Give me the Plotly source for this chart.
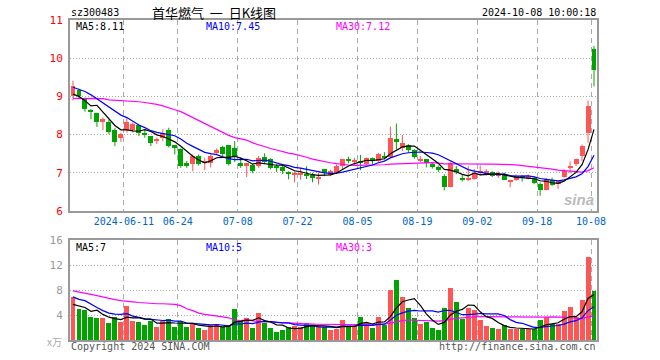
import plotly.graph_objects as go
import pandas as pd

# ---------------- data ----------------
holidays = ["2024-06-10", "2024-09-16", "2024-09-17", "2024-10-01", "2024-10-02",
            "2024-10-03", "2024-10-04", "2024-10-07"]
dates = pd.bdate_range("2024-05-28", "2024-10-08", freq="C", holidays=holidays)
date_str = [d.strftime("%Y-%m-%d") for d in dates]

opens = [9.00, 9.18, 8.95, 8.65, 8.56, 8.32, 8.32, 8.11, 7.91, 8.12,
         8.12, 8.25, 8.05, 7.96, 7.83, 7.92, 8.12, 7.72, 7.63, 7.25,
         7.22, 7.44, 7.26, 7.25, 7.51, 7.68, 7.72, 7.64, 7.25, 7.17,
         7.20, 7.18, 7.42, 7.35, 7.16, 7.15, 7.02, 6.95, 6.93, 6.97,
         6.93, 6.84, 7.10, 6.93, 7.00, 7.19, 7.34, 7.30, 7.27, 7.22,
         7.38, 7.31, 7.42, 7.42, 7.88, 7.66, 7.72, 7.60, 7.33, 7.35,
         7.22, 7.15, 6.91, 6.64, 7.11, 6.83, 6.81, 6.84, 7.00, 6.99,
         7.03, 6.94, 6.97, 6.75, 6.82, 6.89, 6.86, 6.87, 6.72, 6.56,
         6.82, 6.72, 6.89, 7.13, 7.22, 7.44, 8.04, 10.25]
highs = [9.41, 9.20, 8.97, 8.67, 8.57, 8.45, 8.40, 8.18, 8.05, 8.45,
         8.32, 8.27, 8.14, 7.96, 7.92, 8.14, 8.18, 7.73, 7.64, 7.31,
         7.48, 7.48, 7.40, 7.49, 7.64, 7.71, 7.72, 7.83, 7.40, 7.25,
         7.22, 7.44, 7.51, 7.38, 7.23, 7.19, 7.04, 7.04, 7.13, 7.17,
         7.00, 7.00, 7.10, 7.08, 7.22, 7.35, 7.42, 7.39, 7.47, 7.40,
         7.40, 7.52, 7.54, 8.21, 8.29, 7.99, 7.75, 7.62, 7.44, 7.35,
         7.26, 7.19, 6.96, 7.30, 7.18, 6.96, 7.17, 7.10, 7.19, 7.10,
         7.04, 7.04, 7.00, 6.82, 6.96, 6.93, 6.96, 6.91, 6.75, 6.87,
         6.87, 6.78, 7.09, 7.30, 7.37, 7.74, 8.89, 10.32]
lows = [8.89, 8.93, 8.60, 8.40, 8.20, 8.12, 8.01, 7.70, 7.81, 8.05,
        8.05, 7.96, 7.92, 7.70, 7.75, 7.83, 7.66, 7.48, 7.13, 7.13,
        7.04, 7.19, 7.07, 7.14, 7.48, 7.44, 7.19, 7.28, 7.13, 6.89,
        6.99, 7.13, 7.25, 7.09, 7.02, 6.97, 6.83, 6.75, 6.82, 6.84,
        6.75, 6.69, 6.91, 6.91, 6.97, 7.10, 7.25, 7.21, 7.07, 7.19,
        7.22, 7.28, 7.35, 7.39, 7.61, 7.57, 7.53, 7.37, 7.28, 7.14,
        7.11, 7.02, 6.54, 6.62, 6.96, 6.77, 6.78, 6.82, 6.93, 6.93,
        6.89, 6.86, 6.82, 6.62, 6.79, 6.77, 6.82, 6.70, 6.40, 6.54,
        6.66, 6.58, 6.87, 6.98, 7.18, 7.31, 7.79, 9.26]
closes = [9.26, 9.00, 8.67, 8.58, 8.33, 8.40, 8.07, 7.81, 8.01, 8.32,
          8.27, 8.03, 8.01, 7.77, 7.89, 8.05, 7.70, 7.64, 7.19, 7.19,
          7.44, 7.22, 7.27, 7.44, 7.60, 7.48, 7.22, 7.42, 7.20, 7.25,
          7.04, 7.40, 7.28, 7.13, 7.14, 7.05, 6.98, 6.97, 7.00, 6.93,
          6.87, 6.89, 7.00, 7.04, 7.17, 7.35, 7.33, 7.32, 7.26, 7.38,
          7.31, 7.48, 7.41, 7.90, 7.81, 7.79, 7.59, 7.42, 7.35, 7.25,
          7.15, 7.07, 6.63, 7.25, 7.03, 6.82, 6.87, 7.00, 7.00, 7.04,
          6.91, 6.95, 6.82, 6.82, 6.91, 6.88, 6.87, 6.74, 6.56, 6.84,
          6.69, 6.78, 7.04, 7.17, 7.37, 7.70, 8.75, 9.70]
volumes = [6.93, 4.96, 4.80, 3.68, 3.52, 3.52, 2.72, 3.68, 2.88, 5.44,
           3.04, 2.88, 2.40, 3.04, 2.08, 3.04, 3.36, 2.08, 3.04, 2.08,
           2.72, 1.92, 1.60, 2.40, 2.56, 2.08, 2.24, 4.96, 3.04, 3.52,
           1.92, 4.32, 2.72, 1.92, 1.28, 1.60, 2.08, 2.24, 2.08, 2.72,
           2.40, 2.08, 2.08, 1.60, 1.70, 3.20, 2.24, 2.24, 3.68, 2.72,
           1.92, 3.68, 2.40, 8.00, 9.60, 6.88, 5.12, 3.52, 2.56, 2.88,
           1.92, 1.60, 5.12, 8.32, 6.08, 3.36, 5.12, 4.80, 3.20, 2.24,
           1.92, 1.76, 2.40, 1.76, 1.76, 1.76, 1.76, 1.76, 3.20, 3.68,
           2.56, 2.56, 4.64, 5.28, 3.68, 6.40, 13.28, 7.84]

price_ma5_head = [9.06, 9.00, 8.89, 8.75]
price_ma10_head = [9.24, 9.19, 9.13, 9.04, 8.93, 8.82, 8.72, 8.61, 8.51]
price_ma30_head = [8.95, 8.94, 8.94, 8.95, 8.95, 8.94, 8.91, 8.90, 8.89, 8.89,
                   8.87, 8.86, 8.84, 8.82, 8.79, 8.75, 8.71, 8.65, 8.60, 8.52,
                   8.44, 8.36, 8.28, 8.20, 8.13, 8.05, 7.98, 7.92, 7.88]
vol_ma5_head = [5.7, 5.5, 5.2, 4.6]
vol_ma10_head = [6.9, 6.5, 6.3, 5.7, 5.2, 4.7, 4.3, 4.15, 4.1]
vol_ma30_head = [7.85, 7.7, 7.5, 7.3, 7.1, 6.85, 6.6, 6.45, 6.3, 6.15,
                 6.1, 6.0, 5.9, 5.85, 5.8, 5.8, 5.75, 5.7, 5.5, 5.0,
                 4.7, 4.3, 4.1, 4.0, 3.8, 3.7, 3.55, 3.2, 3.1]

tick_dates = ["2024-06-11", "2024-06-24", "2024-07-08", "2024-07-22", "2024-08-05",
              "2024-08-19", "2024-09-02", "2024-09-18", "2024-10-08"]
tick_labels = ["2024-06-11", "06-24", "07-08", "07-22", "08-05", "08-19", "09-02", "09-18", "10-08"]

# ---------------- helpers ----------------
def moving_avg(vals, n, head):
    out = []
    for i in range(len(vals)):
        if i < n - 1:
            out.append(head[i])
        else:
            out.append(sum(vals[i - n + 1:i + 1]) / n)
    return out

N = len(closes)
idx = list(range(N))
UP = "#FF5555"
DN = "#00A300"
up = [c >= o for o, c in zip(opens, closes)]
colors = [UP if u else DN for u in up]

body_base = [min(o, c) for o, c in zip(opens, closes)]
body_h = [max(abs(c - o), 0.025) for o, c in zip(opens, closes)]

tick_idx = [date_str.index(d) - 0.5 for d in tick_dates]

fig = go.Figure()

# wicks
for flag, col in ((True, UP), (False, DN)):
    wx, wy = [], []
    for i in idx:
        if up[i] == flag:
            wx += [i, i, None]
            wy += [lows[i], highs[i], None]
    fig.add_trace(go.Scatter(x=wx, y=wy, mode="lines", line=dict(color=col, width=1),
                             hoverinfo="skip", showlegend=False))

# bodies
fig.add_trace(go.Bar(x=idx, y=body_h, base=body_base, width=0.83,
                     marker=dict(color=colors, line=dict(width=0)), showlegend=False))

# price MAs
for n, head, col in ((30, price_ma30_head, "#FF00FF"), (10, price_ma10_head, "#0000FF"),
                     (5, price_ma5_head, "#000000")):
    fig.add_trace(go.Scatter(x=idx, y=moving_avg(closes, n, head), mode="lines",
                             line=dict(color=col, width=1.2), showlegend=False))

# volume
fig.add_trace(go.Bar(x=idx, y=volumes, width=0.83, xaxis="x2", yaxis="y2",
                     marker=dict(color=colors, line=dict(width=0)), showlegend=False))
for n, head, col in ((30, vol_ma30_head, "#FF00FF"), (10, vol_ma10_head, "#0000FF"),
                     (5, vol_ma5_head, "#000000")):
    fig.add_trace(go.Scatter(x=idx, y=moving_avg(volumes, n, head), mode="lines",
                             xaxis="x2", yaxis="y2",
                             line=dict(color=col, width=1.2), showlegend=False))

# ---------------- layout ----------------
W, H = 660, 360
L, R, T, B = 70, 597, 20, 340

def px(x):
    return (x - L) / (R - L)

def py(y):
    return (B - y) / (B - T)

MONO = "DejaVu Sans Mono"
GRID = "#AAAAAA"
BORDER = "#999999"

common_x = dict(range=[-0.5, N - 0.5], tickmode="array", tickvals=tick_idx,
                showgrid=True, gridcolor=GRID, griddash="5px,4px", gridwidth=1,
                showline=True, mirror=True, linecolor=BORDER, linewidth=2,
                zeroline=False, ticks="", fixedrange=True)

fig.update_layout(
    width=W, height=H,
    margin=dict(l=L, r=W - R, t=T, b=H - B),
    paper_bgcolor="white", plot_bgcolor="white",
    barmode="overlay", bargap=0,
    showlegend=False,
    xaxis=dict(**common_x, domain=[0, 1], anchor="y", ticktext=tick_labels,
               tickfont=dict(family=MONO, size=10, color="#0066CC")),
    yaxis=dict(domain=[py(211), 1], range=[6, 11], tickvals=[6, 7, 8, 9, 10, 11],
               showgrid=True, gridcolor=GRID, griddash="1px,2px",
               showline=True, mirror=True, linecolor=BORDER, linewidth=2,
               zeroline=False, ticks="", ticklabelstandoff=3,
               tickfont=dict(family=MONO, size=11, color="#FF0000")),
    xaxis2=dict(**common_x, domain=[0, 1], anchor="y2", showticklabels=False),
    yaxis2=dict(domain=[0, py(240)], range=[0, 16], tickvals=[4, 8, 12, 16],
                showgrid=True, gridcolor=GRID, griddash="1px,2px",
                showline=True, mirror=True, linecolor=BORDER, linewidth=2,
                zeroline=False, ticks="", ticklabelstandoff=3,
                tickfont=dict(family=MONO, size=11, color="#999999")),
)

def ann(text, x, y, color="#000000", size=10, xanchor="left", family=MONO, **kw):
    fig.add_annotation(text=text, x=px(x), y=py(y), xref="paper", yref="paper",
                       xanchor=xanchor, yanchor="middle", showarrow=False,
                       font=dict(family=family, size=size, color=color), **kw)

ann("sz300483", 69, 13)
ann("首华燃气  一  日K线图", 214, 13, size=13, xanchor="center", family="Noto Sans CJK SC")
ann("2024-10-08 10:00:18", 598, 13, xanchor="right")
ann("MA5:8.11", 74, 27)
ann("MA10:7.45", 204, 27, color="#0000FF")
ann("MA30:7.12", 334, 27, color="#FF00FF")
ann("MA5:7", 74, 247)
ann("MA10:5", 204, 247, color="#0000FF")
ann("MA30:3", 334, 247, color="#FF00FF")
ann("x万", 64, 341, color="#AAAAAA", xanchor="right", family="Noto Sans CJK SC")
ann("Copyright 2024 SINA.COM", 69, 346, color="#555555")
ann("http://finance.sina.com.cn", 598, 346, color="#555555", xanchor="right")
ann("<b><i>sina</i></b>", 596, 199, color="#BBBBBB", size=15, xanchor="right", family="Arial")

fig.write_html("out.html", config={"displayModeBar": False},
               post_script="document.body.style.margin='0';document.body.style.padding='0';")
